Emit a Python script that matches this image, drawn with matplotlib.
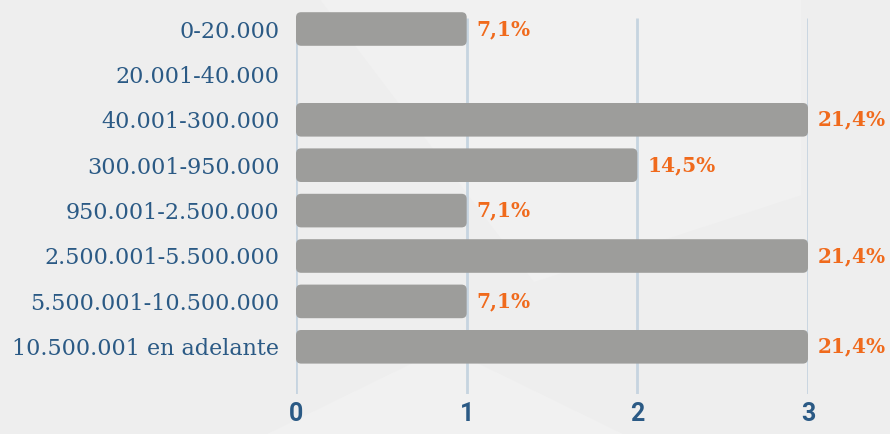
import matplotlib.pyplot as plt
from matplotlib.patches import FancyBboxPatch, Polygon

# datos
categorias = ['0-20.000', '20.001-40.000', '40.001-300.000', '300.001-950.000',
              '950.001-2.500.000', '2.500.001-5.500.000', '5.500.001-10.500.000',
              '10.500.001 en adelante']
valores = [1, 0, 3, 2, 1, 3, 1, 3]
porcentajes = ['7,1%', '', '21,4%', '14,5%', '7,1%', '21,4%', '7,1%', '21,4%']
ticks = [0, 1, 2, 3]

azul = '#2b5a85'
naranja = '#f06a1c'
gris = '#9d9d9b'
grid_color = '#c6d4e0'

W, H = 890, 434
fig = plt.figure(figsize=(W / 100, H / 100), dpi=100, facecolor='#eeeeee')

# fondo con formas suaves (detras de todo)
formas = [
    [(0.36, 1.0), (0.90, 1.0), (0.90, 0.55), (0.60, 0.35)],
    [(0.30, 0.0), (0.70, 0.0), (0.50, 0.20)],
]
for f in formas:
    fig.patches.append(Polygon(f, closed=True, transform=fig.transFigure,
                               facecolor='#f1f1f1', edgecolor='none', zorder=-10))

# geometria: centro fila 0 en y=29px, paso 45.4px; x=0 en 296px, x=3 en 808px
y0, paso = 29.0, 45.4
ytop, ybot = -0.6, 8.04
top_px = y0 + paso * ytop
bot_px = y0 + paso * ybot
x0_px, x3_px = 296, 808
ax = fig.add_axes([x0_px / W, 1 - bot_px / H, (x3_px - x0_px) / W, (bot_px - top_px) / H])
ax.set_facecolor('none')
ax.set_xlim(0, 3)
ax.set_ylim(ybot, ytop)

# lineas verticales
ax.vlines(ticks, -0.24, ybot, colors=grid_color, linewidth=2, zorder=1)

px_x = (x3_px - x0_px) / 3.0
aspect = px_x / paso
alto = 0.74
for i, (v, p) in enumerate(zip(valores, porcentajes)):
    if v > 0:
        barra = FancyBboxPatch((0, i - alto / 2), v, alto,
                               boxstyle='round,pad=0,rounding_size=0.03',
                               mutation_aspect=aspect, facecolor=gris,
                               edgecolor='none', zorder=2)
        ax.add_patch(barra)
        ax.text(v + 10 / px_x, i, p, color=naranja, fontsize=14.5,
                fontweight='bold', family='DejaVu Serif', va='center',
                ha='left', clip_on=False)

ax.set_yticks(range(len(categorias)))
ax.set_yticklabels(categorias, family='DejaVu Serif', fontsize=16, color=azul)
ax.set_xticks(ticks)
ax.set_xticklabels([str(t) for t in ticks], family='Roboto', fontweight='bold',
                   fontsize=18, color=azul)
ax.tick_params(axis='y', length=0, pad=12)
ax.tick_params(axis='x', length=0, pad=6)
for s in ax.spines.values():
    s.set_visible(False)

fig.savefig('out.png', dpi=100, facecolor=fig.get_facecolor())
